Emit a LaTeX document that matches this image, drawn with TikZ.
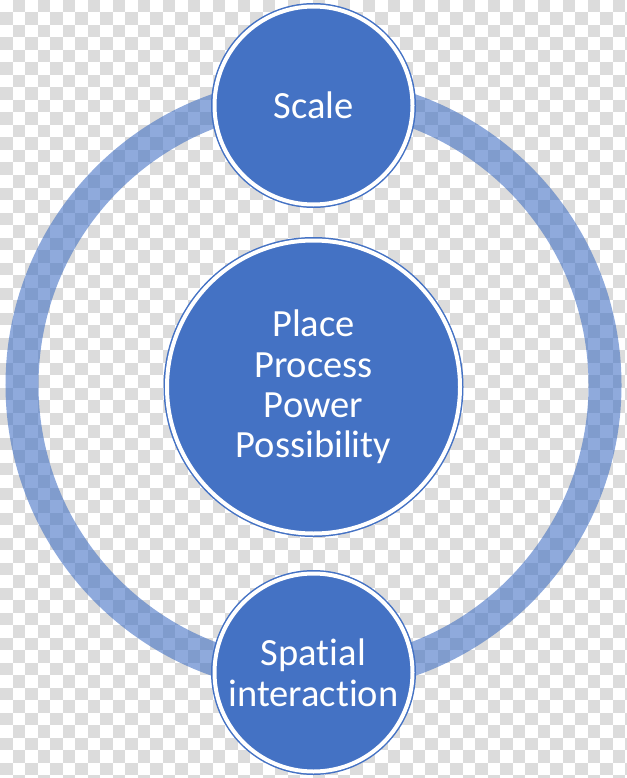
\documentclass[tikz,border=0pt]{standalone}
\usepackage{fontspec}
\setmainfont{Carlito}[Ligatures={NoCommon,NoRare}]
\usepackage{tikz}
\usetikzlibrary{backgrounds}
\definecolor{officeblue}{HTML}{4472C4}
\definecolor{checkgrey}{HTML}{DCDCDC}
\tikzset{
  disc/.style={circle,draw=officeblue,line width=1.5pt,double=white,
    double distance=4pt,fill=officeblue,text=white,align=center,
    inner sep=0pt},
  cycle ring/.style={draw=officeblue,line width=33pt,draw opacity=.6}}

\begin{document}
\begin{tikzpicture}[x=1pt,y=-1pt,
  smalldisc/.style={disc,minimum size=198pt,
    font=\fontsize{38.5}{41}\selectfont},
  bigdisc/.style={disc,minimum size=293pt,
    font=\fontsize{38.5}{40.3}\selectfont}]

  \useasboundingbox (0,0) rectangle (626,778);
  \clip (0,0) rectangle (626,778);

  \node[bigdisc] (core) at (313.5,387)
    {Place\\Process\\Power\\Possibility};
  \node[smalldisc] (scale) at (313.5,105.5) {Scale};
  \node[smalldisc] (spatial) at (313.5,672.5) {Spatial\\interaction};

  \begin{scope}[on background layer]
  % transparent-looking background
  \foreach \i in {0,...,50}
    \foreach \j in {0,...,62}{
      \pgfmathtruncatemacro\k{\i+\j}
      \ifodd\k
        \fill[checkgrey] (\i*12.5,\j*12.5) rectangle ++(12.5,12.5);
      \fi}
  \draw[cycle ring] ([yshift=2pt]core.center) circle[radius=291.5];
  \end{scope}
\end{tikzpicture}
\end{document}
